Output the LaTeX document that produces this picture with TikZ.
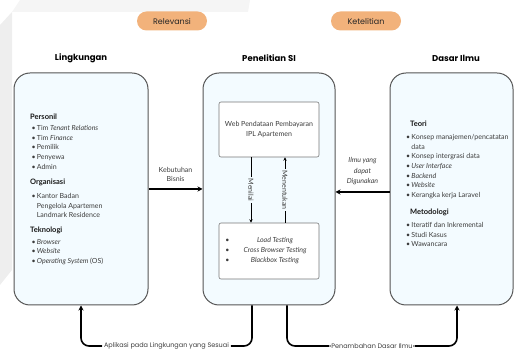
\documentclass[tikz,border=0pt]{standalone}
\usepackage{fontspec}
\setmainfont{Lato}
\newfontfamily\headfont{Poppins}
\usetikzlibrary{arrows.meta}
\definecolor{boxfill}{HTML}{F3FBFF}
\definecolor{boxline}{HTML}{555555}
\definecolor{pillfill}{HTML}{F2B27B}
\definecolor{txt}{HTML}{3C3C3C}
\definecolor{wmark}{HTML}{EEEEEE}
\newcommand\itm{\makebox[5.2pt][l]{\textbullet}}
\newcommand\ind{\hspace*{5.2pt}}

\begin{document}
\begin{tikzpicture}[x=1pt,y=-1pt]
\tikzset{bigbox/.style = {draw=boxline, line width=1pt, fill=boxfill, rounded corners=16pt, minimum height=232pt}}
\tikzset{innerbox/.style = {draw=boxline!80, line width=0.6pt, fill=white, rounded corners=2pt, minimum width=100pt, text=txt, font=\fontsize{7}{10}\selectfont, align=center}}
\tikzset{pill/.style = {fill=pillfill, rounded corners=9.5pt, minimum width=70pt, minimum height=19pt, inner sep=0pt, font=\headfont\fontsize{8}{9}\selectfont, text=black!85}}
\tikzset{title/.style = {font=\headfont\bfseries\fontsize{8.5}{10}\selectfont}}
\tikzset{sect/.style = {anchor=west, inner sep=0pt, font=\bfseries\fontsize{7.5}{9}\selectfont, text=black!90}}
\tikzset{list/.style = {anchor=north west, inner sep=0pt, align=left, text=txt, font=\fontsize{7}{9.7}\selectfont}}
\tikzset{edge/.style = {-{Stealth[length=5pt, width=5pt]}, line width=1.6pt}}
\tikzset{thinedge/.style = {-{Stealth[length=3.5pt, width=3.5pt]}, line width=0.7pt}}
\tikzset{elabel/.style = {text=txt, font=\fontsize{7}{9}\selectfont, align=center}}
\tikzset{blabel/.style = {fill=white, inner sep=2pt, text=txt, font=\headfont\fontsize{6.5}{8}\selectfont}}
\useasboundingbox (0,0) rectangle (514,352);
% watermark in the background
\fill[wmark!60] (20,0) -- (250,0) -- (248,12) -- (12,12) -- cycle;
\fill[wmark] (0,25) -- (12,12) -- (12,270) -- (0,285) -- cycle;
% tags and titles
\node[pill](relevansi) at (172,21) {Relevansi};
\node[pill](ketelitian) at (366,21) {Ketelitian};
\node[title](tLingkungan) at (81,58) {Lingkungan};
\node[title](tPenelitian) at (269,58) {Penelitian SI};
\node[title](tDasar) at (456,58) {Dasar Ilmu};
% main boxes
\node[bigbox, minimum width=134pt](envBox) at (81,189) {};
\node[bigbox, minimum width=132pt](siBox) at (269,189) {};
\node[bigbox, minimum width=123pt](basisBox) at (451.5,189) {};
% Lingkungan
\node[sect](personil) at (30,117) {Personil};
\node[list](personilList) at (31.5,125) {\itm Tim \textit{Tenant Relations}\\ \itm Tim \textit{Finance}\\ \itm Pemilik\\ \itm Penyewa\\ \itm Admin};
\node[sect](organisasi) at (30,182) {Organisasi};
\node[list](organisasiList) at (31.5,193) {\itm Kantor Badan\\ \ind Pengelola Apartemen\\ \ind Landmark Residence};
\node[sect](teknologi) at (30,230) {Teknologi};
\node[list](teknologiList) at (31.5,239) {\itm \textit{Browser}\\ \itm \textit{Website}\\ \itm \textit{Operating System} (OS)};
% Dasar Ilmu
\node[sect](teori) at (410,124) {Teori};
\node[list](teoriList) at (406,134) {\itm Konsep manajemen/pencatatan\\ \ind data\\ \itm Konsep intergrasi data\\ \itm \textit{User Interface}\\ \itm \textit{Backend}\\ \itm \textit{Website}\\ \itm Kerangka kerja Laravel};
\node[sect](metodologi) at (410,212) {Metodologi};
\node[list](metodologiList) at (406,222) {\itm Iteratif dan Inkremental\\ \itm Studi Kasus\\ \itm Wawancara};
% Penelitian SI
\node[innerbox, minimum height=55pt](webBox) at (269,129.5) {Web Pendataan Pembayaran\\IPL Apartemen};
\node[innerbox, minimum height=56pt](testBox) at (269,251) {};
\node[elabel, font=\fontsize{7}{10}\selectfont](testBullets) at (227.5,251) {\textbullet\\\textbullet\\\textbullet};
\node[elabel, font=\itshape\fontsize{7}{10}\selectfont](testList) at (275,251) {Load Testing\\Cross Browser Testing\\Blackbox Testing};
\draw[thinedge] ([xshift=-18pt]webBox.south) -- node[elabel, rotate=-90, fill=boxfill, inner sep=2pt]{Menilai} ([xshift=-18pt]testBox.north);
\draw[thinedge] ([xshift=16pt]testBox.north) -- node[elabel, rotate=-90, fill=boxfill, inner sep=2pt]{Menentukan} ([xshift=16pt]webBox.south);
% connectors between the boxes
\draw[edge] (envBox.east) -- node[elabel, above=3pt]{Kebutuhan\\Bisnis} (siBox.east -| siBox.west);
\draw[edge] ([yshift=-3pt]basisBox.west) -- node[elabel, above=3pt, font=\itshape\fontsize{7}{10.5}\selectfont]{Ilmu yang\\dapat\\Digunakan} ([yshift=-3pt]siBox.east);
\coordinate (bendL) at (81,346);
\coordinate (bendR) at (457,346);
\draw[edge, rounded corners=8pt] ([xshift=-17pt]siBox.south) |- node[blabel, pos=0.75]{Aplikasi pada Lingkungan yang Sesuai} (bendL) -- (envBox.south);
\draw[edge, rounded corners=8pt] ([xshift=18pt]siBox.south) |- node[blabel, pos=0.75]{Penambahan Dasar Ilmu} (bendR) -- ([xshift=5.5pt]basisBox.south);
\end{tikzpicture}
\end{document}
